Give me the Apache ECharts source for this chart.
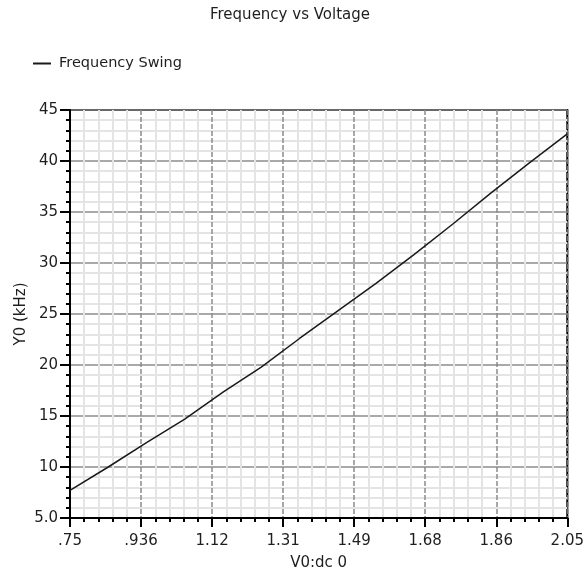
<!DOCTYPE html>
<html>
<head>
<meta charset="utf-8">
<script src="https://cdn.jsdelivr.net/npm/echarts@6/dist/echarts.min.js"></script>
<style>
  html, body { margin: 0; padding: 0; background: #ffffff; }
  #chart { width: 587px; height: 576px; }
</style>
</head>
<body>
<div id="chart"></div>
<script>
// Swept DC input voltage (V) and the resulting oscillator frequency (kHz)
const voltage = [0.75, 0.85, 0.95, 1.05, 1.15, 1.25, 1.35, 1.45, 1.55, 1.65, 1.75, 1.85, 1.95, 2.05];
const freqKHz = [7.7, 10.0, 12.4, 14.7, 17.35, 19.8, 22.6, 25.3, 28.0, 30.85, 33.8, 36.85, 39.8, 42.65];

// Axis tick labels as printed by the simulator
const xTickLabels = ['.75', '.936', '1.12', '1.31', '1.49', '1.68', '1.86', '2.05'];
const yTickLabels = ['5.0', '10', '15', '20', '25', '30', '35', '40', '45'];

const xMin = 0.75, xMax = 2.05;
const xStep = (xMax - xMin) / (xTickLabels.length - 1);
const yMin = 5, yMax = 45, yStep = 5;

const FONT = 'DejaVu Sans';
const textColor = '#1e1e1e';

const chart = echarts.init(document.getElementById('chart'), null, { renderer: 'canvas' });

chart.setOption({
  animation: false,
  backgroundColor: '#ffffff',
  title: {
    text: 'Frequency vs Voltage',
    left: 205,
    top: 3,
    textStyle: { fontFamily: FONT, fontSize: 15, fontWeight: 'normal', color: textColor }
  },
  legend: {
    left: 28,
    top: 51,
    itemWidth: 18,
    itemHeight: 2,
    icon: 'rect',
    textStyle: { fontFamily: FONT, fontSize: 14.5, color: textColor, padding: [0, 0, 0, 3] },
    data: ['Frequency Swing']
  },
  grid: {
    left: 70,
    right: 18,
    top: 110,
    bottom: 57,
    show: true,
    borderColor: '#000000',
    borderWidth: 2,
    backgroundColor: '#ffffff'
  },
  xAxis: {
    type: 'value',
    min: xMin,
    max: xMax,
    interval: xStep,
    name: 'V0:dc 0',
    nameLocation: 'middle',
    nameGap: 38,
    nameTextStyle: { fontFamily: FONT, fontSize: 15, color: textColor },
    axisLine: { show: true, onZero: false, lineStyle: { color: '#000000', width: 2 } },
    axisTick: { show: true, length: 9, lineStyle: { color: '#000000', width: 2 } },
    minorTick: { show: true, splitNumber: 5, length: 4, lineStyle: { color: '#000000', width: 2 } },
    axisLabel: {
      margin: 16,
      fontFamily: FONT,
      fontSize: 15,
      color: textColor,
      formatter: v => xTickLabels[Math.round((v - xMin) / xStep)]
    },
    splitLine: { show: true, lineStyle: { color: '#8c8c8c', width: 1.5, type: [5, 2] } },
    minorSplitLine: { show: true, lineStyle: { color: '#e4e4e4', width: 2 } }
  },
  yAxis: {
    type: 'value',
    min: yMin,
    max: yMax,
    interval: yStep,
    name: 'Y0 (kHz)',
    nameLocation: 'middle',
    nameGap: 41,
    nameMoveOverlap: false,
    nameTextStyle: { fontFamily: FONT, fontSize: 15, color: textColor },
    axisLine: { show: true, onZero: false, lineStyle: { color: '#000000', width: 2 } },
    axisTick: { show: true, length: 10, lineStyle: { color: '#000000', width: 2 } },
    minorTick: { show: true, splitNumber: 5, length: 4, lineStyle: { color: '#000000', width: 2 } },
    axisLabel: {
      margin: 12,
      fontFamily: FONT,
      fontSize: 15,
      color: textColor,
      formatter: v => yTickLabels[Math.round((v - yMin) / yStep)]
    },
    splitLine: { show: true, lineStyle: { color: '#8c8c8c', width: 1.5 } },
    minorSplitLine: { show: true, lineStyle: { color: '#e4e4e4', width: 2 } }
  },
  series: [{
    name: 'Frequency Swing',
    type: 'line',
    data: voltage.map((v, i) => [v, freqKHz[i]]),
    showSymbol: false,
    smooth: false,
    lineStyle: { color: '#1a1a1a', width: 1.5 },
    itemStyle: { color: '#1a1a1a' }
  }]
});
</script>
</body>
</html>
